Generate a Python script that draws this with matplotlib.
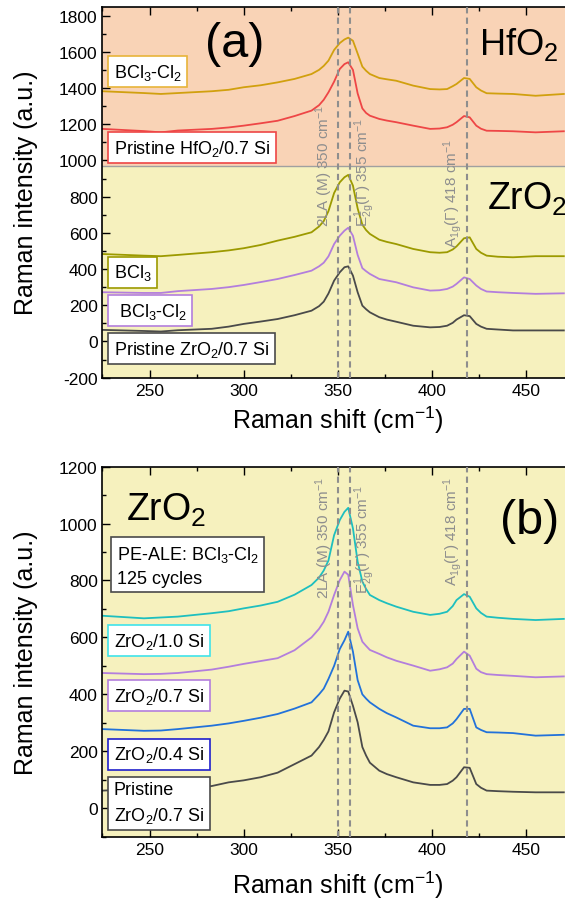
import matplotlib
matplotlib.use('Agg')
import matplotlib.pyplot as plt
from matplotlib.ticker import MultipleLocator

plt.rcParams['font.family'] = ['Liberation Sans', 'DejaVu Sans']
plt.rcParams['mathtext.fontset'] = 'custom'
plt.rcParams['mathtext.rm'] = 'Liberation Sans'
plt.rcParams['mathtext.it'] = 'Liberation Sans:italic'
plt.rcParams['mathtext.bf'] = 'Liberation Sans:bold'
plt.rcParams['mathtext.default'] = 'regular'
plt.rcParams['axes.unicode_minus'] = False

# Raman shift grid (cm-1) the values were read at
shift = [225, 247, 256, 265, 283, 292, 300, 309, 318, 327, 336, 340, 342.5, 345,
         348, 351, 353.5, 355.5, 358, 360.5, 363, 365, 367, 372, 376, 381, 390,
         399, 404, 408, 411, 413, 417, 420, 423.5, 426, 429, 435, 443, 455, 470]

# panel (a) - HfO2
hfo2_bcl3_cl2 = [1382, 1372, 1367, 1372, 1382, 1390, 1404, 1415, 1431, 1450, 1477,
                 1500, 1522, 1551, 1610, 1648, 1668, 1678, 1661, 1590, 1518, 1495,
                 1477, 1455, 1448, 1440, 1413, 1394, 1392, 1394, 1410, 1422, 1455,
                 1450, 1404, 1386, 1371, 1369, 1367, 1357, 1367]
hfo2_pristine = [1174, 1162, 1155, 1165, 1174, 1182, 1192, 1205, 1219, 1245, 1275,
                 1305, 1335, 1376, 1435, 1505, 1532, 1542, 1500, 1370, 1287, 1262,
                 1247, 1229, 1220, 1211, 1192, 1174, 1176, 1183, 1197, 1211, 1245,
                 1238, 1192, 1175, 1164, 1163, 1161, 1155, 1161]
# panel (a) - ZrO2
zro2_bcl3 = [483, 474, 471, 478, 493, 503, 515, 533, 557, 578, 603, 635, 665, 720,
             820, 879, 907, 920, 861, 735, 645, 615, 594, 562, 550, 538, 511, 493,
             490, 493, 508, 525, 570, 575, 511, 490, 474, 468, 465, 471, 471]
zro2_bcl3_cl2 = [272, 268, 268, 278, 290, 300, 312, 328, 345, 367, 391, 415, 435,
                 470, 538, 584, 612, 628, 584, 478, 405, 388, 373, 345, 337, 327,
                 299, 281, 283, 290, 303, 318, 354, 345, 309, 290, 276, 272, 268,
                 263, 266]
zro2_pristine = [64, 58, 55, 62, 70, 82, 97, 110, 124, 145, 170, 195, 220, 265, 336,
                 382, 410, 415, 364, 272, 198, 178, 161, 134, 121, 109, 87, 78, 80,
                 87, 103, 121, 145, 140, 97, 82, 70, 66, 61, 61, 61]

# panel (b) - ZrO2 with different Si content
si_10 = [676, 667, 670, 673, 685, 692, 702, 712, 725, 750, 784, 810, 835, 870, 959,
         1012, 1041, 1055, 983, 866, 796, 770, 749, 731, 720, 708, 690, 679, 683,
         690, 710, 731, 752, 743, 702, 686, 673, 669, 665, 661, 665]
si_07 = [475, 471, 472, 475, 487, 497, 507, 517, 527, 555, 600, 630, 655, 690, 749,
         801, 831, 820, 714, 632, 585, 570, 556, 542, 530, 518, 501, 483, 488, 495,
         508, 524, 550, 536, 490, 478, 471, 468, 465, 460, 463]
si_04 = [278, 272, 273, 278, 290, 298, 307, 318, 331, 350, 372, 400, 420, 454, 500,
         559, 590, 620, 550, 450, 400, 385, 372, 349, 334, 319, 290, 281, 281, 284,
         298, 313, 349, 349, 284, 275, 267, 266, 264, 255, 258]
si_pristine = [62, 68, 66, 70, 78, 91, 98, 109, 125, 155, 185, 215, 240, 270, 337,
               385, 413, 410, 360, 302, 215, 185, 160, 132, 120, 109, 91, 82, 82, 85,
               97, 109, 144, 142, 85, 72, 62, 60, 58, 56, 56]

modes = [350, 356.5, 418.5]

PEACH = '#F9D3B6'
YELLOW = '#F6F1BE'
GREY = '#8E8E8E'


def style_axes(ax, ylo, yhi):
    ax.set_xlim(225, 475)
    ax.set_ylim(ylo, yhi)
    ax.xaxis.set_major_locator(MultipleLocator(50))
    ax.xaxis.set_minor_locator(MultipleLocator(25))
    ax.yaxis.set_major_locator(MultipleLocator(200))
    ax.yaxis.set_minor_locator(MultipleLocator(100))
    ax.tick_params(which='both', direction='in', top=True, right=True,
                   width=1, labelsize=12.5)
    ax.tick_params(which='major', length=5.5)
    ax.tick_params(which='minor', length=3)
    for s in ax.spines.values():
        s.set_linewidth(1.2)
    for x in modes:
        ax.axvline(x, color=GREY, lw=1.5, dashes=(3, 2), zorder=3)


def box_label(ax, x, y, text, edge):
    ax.text(x, y, text, fontsize=13, ha='left', va='center', zorder=5,
            linespacing=1.45,
            bbox=dict(boxstyle='square,pad=0.3', fc='white', ec=edge, lw=1.2))


def mode_labels(ax, y2la, ye, ya):
    ax.text(343, y2la, '2LA (M) 350 cm$^{-1}$', rotation=90, ha='center',
            va='bottom', color=GREY, fontsize=11, zorder=4)
    ax.text(364.5, ye, 'E$^{1}_{2g}$(Γ) 355 cm$^{-1}$', rotation=90, ha='center',
            va='bottom', color=GREY, fontsize=11, zorder=4)
    ax.text(411, ya, 'A$_{1g}$(Γ) 418 cm$^{-1}$', rotation=90, ha='center',
            va='bottom', color=GREY, fontsize=11, zorder=4)


def curve(ax, y, color):
    ax.plot(shift, y, color=color, lw=1.3, zorder=2, solid_joinstyle='round')


fig = plt.figure(figsize=(5.65, 9.04), dpi=100)
ax1 = fig.add_axes([0.1814, 0.5811, 0.8332, 0.4106])
ax2 = fig.add_axes([0.1814, 0.0733, 0.8332, 0.4095])

# ---- (a)
ax1.axhspan(970, 1850, color=PEACH, zorder=0, lw=0)
ax1.axhspan(-200, 970, color=YELLOW, zorder=0, lw=0)
ax1.axhline(970, color='#A0A0A0', lw=1, zorder=1)
curve(ax1, hfo2_bcl3_cl2, '#D1A00E')
curve(ax1, hfo2_pristine, '#EE4646')
curve(ax1, zro2_bcl3, '#9C9A00')
curve(ax1, zro2_bcl3_cl2, '#B37EDD')
curve(ax1, zro2_pristine, '#4A4A4A')
style_axes(ax1, -200, 1850)
mode_labels(ax1, 640, 636, 522)

box_label(ax1, 231, 1490, 'BCl$_3$-Cl$_2$', '#E8B43A')
box_label(ax1, 231, 1069, 'Pristine HfO$_2$/0.7 Si', '#EE4646')
box_label(ax1, 231, 382, 'BCl$_3$', '#9C9A00')
box_label(ax1, 231, 170, ' BCl$_3$-Cl$_2$', '#B37EDD')
box_label(ax1, 231, -41, 'Pristine ZrO$_2$/0.7 Si', '#4A4A4A')

ax1.text(295, 1648, '(a)', fontsize=35, ha='center', va='center', zorder=5)
ax1.text(425, 1588, 'HfO$_2$', fontsize=26, ha='left', va='baseline', zorder=5)
ax1.text(429, 732, 'ZrO$_2$', fontsize=27, ha='left', va='baseline', zorder=5)

# ---- (b)
ax2.set_facecolor(YELLOW)
curve(ax2, si_10, '#1EBFBF')
curve(ax2, si_07, '#B37EDD')
curve(ax2, si_04, '#2272DA')
curve(ax2, si_pristine, '#4A4A4A')
style_axes(ax2, -100, 1200)
mode_labels(ax2, 738, 755, 784)

box_label(ax2, 232.5, 854, 'PE-ALE: BCl$_3$-Cl$_2$\n125 cycles', '#4A4A4A')
box_label(ax2, 231, 588, 'ZrO$_2$/1.0 Si', '#3FE3EA')
box_label(ax2, 231, 395, 'ZrO$_2$/0.7 Si', '#B37EDD')
box_label(ax2, 231, 190, 'ZrO$_2$/0.4 Si', '#2020CC')
box_label(ax2, 231, 18, 'Pristine\nZrO$_2$/0.7 Si', '#4A4A4A')

ax2.text(452, 1012, '(b)', fontsize=35, ha='center', va='center', zorder=5)
ax2.text(237.5, 1012, 'ZrO$_2$', fontsize=27, ha='left', va='baseline', zorder=5)

# axis titles
for yc in (1 - 193 / 904, 1 - 652.6 / 904):
    fig.text(26 / 565, yc, 'Raman intensity (a.u.)', rotation=90, fontsize=18,
             ha='center', va='center')
for yc in (1 - 420 / 904, 1 - 885 / 904):
    fig.text(338 / 565, yc, 'Raman shift (cm$^{-1}$)', fontsize=18,
             ha='center', va='center')

fig.savefig('out.png', dpi=100)
